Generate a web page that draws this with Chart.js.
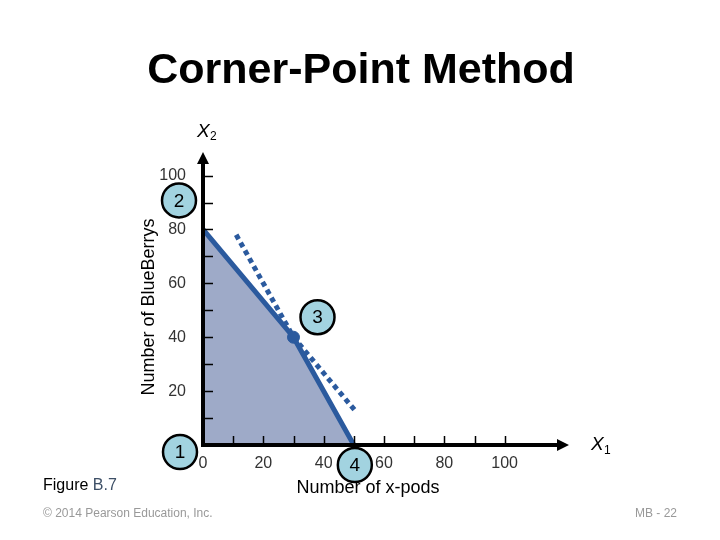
<!DOCTYPE html>
<html>
<head>
<meta charset="utf-8">
<script src="https://cdn.jsdelivr.net/npm/chart.js"></script>
<style>
  html, body { margin: 0; padding: 0; background: #fff; }
  #wrap { width: 720px; height: 540px; }
</style>
</head>
<body>
<div id="wrap"><canvas id="c" width="720" height="540"></canvas></div>
<script>
// corner-point method (figure B.7)

const xTicks = [0, 10, 20, 30, 40, 50, 60, 70, 80, 90, 100]
const xTickLabels = ['0', '', '20', '', '40', '', '60', '', '80', '', '100']
const yTicks = [10, 20, 30, 40, 50, 60, 70, 80, 90, 100]
const yTickLabels = ['', '20', '', '40', '', '60', '', '80', '', '100']

// feasible region edge
const boundaryX = [0, 30, 50]
const boundaryY = [80, 40, 0]
// dotted constraint extensions
const dottedX = [11, 30, 51]
const dottedY = [78, 40, 12]
// optimal corner
const optimalX = [30]
const optimalY = [40]
// numbered corner points
const cornerX = [0, 0, 30, 50]
const cornerY = [0, 80, 40, 0]
const cornerLabels = ['1', '2', '3', '4']

const FONT = '"Liberation Sans", Arial, sans-serif'
const BLUE = '#2b5a9e'

const toPoints = (xs, ys) => xs.map((x, i) => ({ x, y: ys[i] }))

const decor = {
  id: 'decor',
  afterDatasetsDraw(chart) {
    const { ctx, scales: { x, y } } = chart
    const x0 = x.getPixelForValue(0)
    const y0 = y.getPixelForValue(0)
    ctx.save()
    // tick marks (inside)
    ctx.strokeStyle = '#000'
    ctx.lineWidth = 1.5
    ctx.beginPath()
    xTicks.forEach(v => {
      const px = Math.round(x.getPixelForValue(v)) + 0.5
      ctx.moveTo(px, y0); ctx.lineTo(px, y0 - 9)
    })
    yTicks.forEach(v => {
      const py = Math.round(y.getPixelForValue(v)) + 0.5
      ctx.moveTo(x0, py); ctx.lineTo(x0 + 10, py)
    })
    ctx.stroke()
    // axes with arrows
    const top = chart.chartArea.top
    const right = chart.chartArea.right
    ctx.lineWidth = 4
    ctx.beginPath()
    ctx.moveTo(x0, y0 + 2); ctx.lineTo(x0, top + 8)
    ctx.moveTo(x0 - 2, y0); ctx.lineTo(right - 6, y0)
    ctx.stroke()
    ctx.fillStyle = '#000'
    ctx.beginPath()
    ctx.moveTo(x0, top - 2); ctx.lineTo(x0 - 6, top + 10); ctx.lineTo(x0 + 6, top + 10); ctx.closePath()
    ctx.moveTo(right + 4, y0); ctx.lineTo(right - 8, y0 - 6); ctx.lineTo(right - 8, y0 + 6); ctx.closePath()
    ctx.fill()
    ctx.restore()
  },
  afterDraw(chart) {
    const { ctx, scales: { x, y } } = chart
    ctx.save()
    ctx.fillStyle = '#000'
    ctx.textAlign = 'center'
    ctx.textBaseline = 'alphabetic'
    ctx.font = 'bold 43px ' + FONT
    ctx.fillText('Corner-Point Method', 361, 83)

    ctx.font = '18px ' + FONT
    ctx.fillText('Number of x-pods', 368, 493)
    ctx.save()
    ctx.translate(149, 307)
    ctx.rotate(-Math.PI / 2)
    ctx.textBaseline = 'middle'
    ctx.fillText('Number of BlueBerrys', 0, 0)
    ctx.restore()

    // axis symbols
    ctx.textAlign = 'left'
    ctx.font = 'italic 19px ' + FONT
    ctx.fillText('X', 197, 137)
    ctx.fillText('X', 591, 450)
    ctx.font = '12px ' + FONT
    ctx.fillText('2', 210, 140)
    ctx.fillText('1', 604, 454)

    ctx.font = '16px ' + FONT
    ctx.fillText('Figure ', 43, 490)
    const fw = ctx.measureText('Figure ').width
    ctx.fillStyle = '#3d4f66'
    ctx.fillText('B.7', 43 + fw, 490)

    ctx.fillStyle = '#999'
    ctx.font = '12px ' + FONT
    ctx.fillText('\u00a9 2014 Pearson Education, Inc.', 43, 517)
    ctx.textAlign = 'right'
    ctx.fillText('MB - 22', 677, 517)

    // numbered corner circles
    const offsets = [[-23, 7], [-24, -29], [24, -20], [1, 20]]
    cornerLabels.forEach((lab, i) => {
      const cx = x.getPixelForValue(cornerX[i]) + offsets[i][0]
      const cy = y.getPixelForValue(cornerY[i]) + offsets[i][1]
      ctx.beginPath()
      ctx.arc(cx, cy, 17, 0, Math.PI * 2)
      ctx.fillStyle = '#a2d3e0'
      ctx.fill()
      ctx.lineWidth = 2.5
      ctx.strokeStyle = '#000'
      ctx.stroke()
      ctx.fillStyle = '#000'
      ctx.font = '19px ' + FONT
      ctx.textAlign = 'center'
      ctx.textBaseline = 'middle'
      ctx.fillText(lab, cx, cy + 1)
    })
    ctx.restore()
  }
}

new Chart(document.getElementById('c'), {
  type: 'scatter',
  data: {
    datasets: [
      {
        data: toPoints(boundaryX, boundaryY),
        showLine: true,
        borderColor: BLUE,
        borderWidth: 5,
        backgroundColor: '#9eaac8',
        fill: 'origin',
        pointRadius: 0,
        order: 3
      },
      {
        data: toPoints(dottedX, dottedY),
        showLine: true,
        borderColor: BLUE,
        borderWidth: 5,
        borderDash: [5, 4],
        fill: false,
        pointRadius: 0,
        order: 2
      },
      {
        data: toPoints(optimalX, optimalY),
        pointRadius: 6,
        pointBackgroundColor: BLUE,
        pointBorderColor: BLUE,
        order: 1
      }
    ]
  },
  options: {
    responsive: false,
    animation: false,
    layout: { padding: { left: 0, top: 154, right: 155, bottom: 0 } },
    plugins: { legend: { display: false }, tooltip: { enabled: false } },
    scales: {
      x: {
        type: 'linear',
        min: 0,
        max: 120,
        grid: { display: false },
        border: { display: false },
        afterBuildTicks: s => { s.ticks = xTicks.map(v => ({ value: v })) },
        afterFit: s => { s.height = 95 },
        ticks: {
          autoSkip: false,
          maxRotation: 0,
          padding: 1,
          color: '#333',
          font: { family: FONT, size: 16 },
          callback: (v, i) => xTickLabels[i]
        }
      },
      y: {
        type: 'linear',
        min: 0,
        max: 108,
        grid: { display: false },
        border: { display: false },
        afterBuildTicks: s => { s.ticks = yTicks.map(v => ({ value: v })) },
        afterFit: s => { s.width = 203 },
        ticks: {
          autoSkip: false,
          padding: 9,
          color: '#333',
          font: { family: FONT, size: 16 },
          callback: (v, i) => yTickLabels[i]
        }
      }
    }
  },
  plugins: [decor]
})
</script>
</body>
</html>
